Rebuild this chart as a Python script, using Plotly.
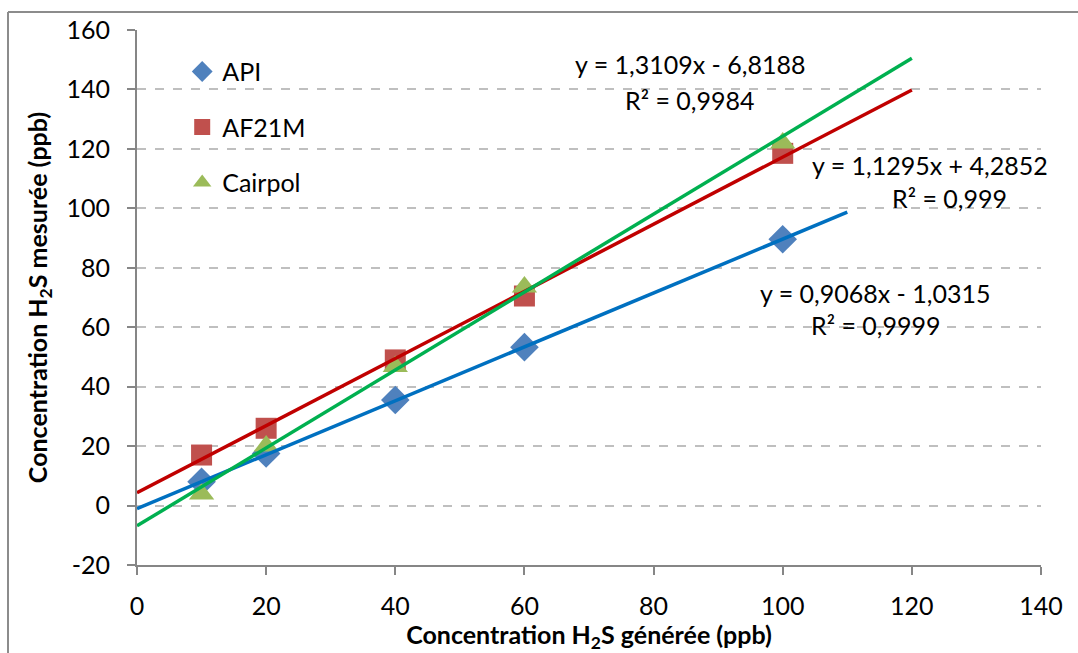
import plotly.graph_objects as go

# ---- data ----
x_gen = [10, 20, 40, 60, 100]
api = [8, 17.5, 35.5, 53.3, 89.6]
af21m = [17, 26, 49, 70.5, 118.5]
cairpol = [3.9, 20, 46.8, 73.5, 122]

series_names = ["API", "AF21M", "Cairpol"]
slopes = [0.9068, 1.1295, 1.3109]
intercepts = [-1.0315, 4.2852, -6.8188]
trend_end = [110, 120, 120]
eq_texts = ["y = 0,9068x - 1,0315", "y = 1,1295x + 4,2852", "y = 1,3109x - 6,8188"]
r2_texts = ["R² = 0,9999", "R² = 0,999", "R² = 0,9984"]

x_ticks = [0, 20, 40, 60, 80, 100, 120, 140]
y_ticks = [-20, 0, 20, 40, 60, 80, 100, 120, 140, 160]
y_tick_labels = ["-20", "0", "20", "40", "60", "80", "100", "120", "140", "160"]

# ---- style ----
FONT = "Lato"
FS = 25
marker_colors = ["#4F81BD", "#C0504D", "#9BBB59"]
line_colors = ["#0070C0", "#C00000", "#00B050"]
symbols = ["diamond", "square", "triangle-up"]
marker_sizes = [22, 21, 22]

fig = go.Figure()
for i, (name, ys) in enumerate(zip(series_names, [api, af21m, cairpol])):
    fig.add_trace(go.Scatter(
        x=x_gen, y=ys, mode="markers", name=name,
        legendgroup=name,
        marker=dict(symbol=symbols[i], size=marker_sizes[i], color=marker_colors[i],
                    line=dict(width=0)),
    ))
for i in range(3):
    xs = [0, trend_end[i]]
    ys = [intercepts[i] + slopes[i] * v for v in xs]
    fig.add_trace(go.Scatter(
        x=xs, y=ys, mode="lines", showlegend=False,
        line=dict(color=line_colors[i], width=3.5),
    ))

ann_pos = [
    (114.3, 71.5, 114.4, 60.7),
    (122.8, 114.6, 125.8, 103.5),
    (85.6, 148.6, 85.6, 136.4),
]
for i in range(3):
    ex, ey, rx, ry = ann_pos[i]
    fig.add_annotation(x=ex, y=ey, text=eq_texts[i], showarrow=False,
                       font=dict(family=FONT, size=FS, color="black"))
    fig.add_annotation(x=rx, y=ry, text=r2_texts[i], showarrow=False,
                       font=dict(family=FONT, size=FS, color="black"))

# chart-area border (left and top edges visible)
fig.add_shape(type="line", xref="paper", yref="paper",
              x0=-0.1427, x1=1.1, y0=1.0336, y1=1.0336,
              line=dict(color="#8C8C8C", width=2))
fig.add_shape(type="line", xref="paper", yref="paper",
              x0=-0.1427, x1=-0.1427, y0=-0.3, y1=1.0336,
              line=dict(color="#8C8C8C", width=2))

fig.update_layout(
    width=1078, height=653,
    margin=dict(l=137, r=37, t=30, b=88, autoexpand=False),
    paper_bgcolor="white", plot_bgcolor="white",
    font=dict(family=FONT, size=FS, color="black"),
    showlegend=True,
    legend=dict(x=0.05, y=0.965, xanchor="left", yanchor="top",
                bgcolor="rgba(0,0,0,0)", font=dict(family=FONT, size=FS),
                traceorder="grouped", tracegroupgap=20, itemwidth=30),
    xaxis=dict(
        range=[0, 140], tickvals=x_ticks, showgrid=False, zeroline=False,
        automargin=False,
        showline=True, linecolor="#868686", linewidth=2,
        ticks="outside", ticklen=8, tickcolor="#868686", tickwidth=2,
        ticklabelstandoff=10,
        tickfont=dict(family=FONT, size=FS),
        title=dict(text="<b>Concentration H<sub>2</sub>S générée (ppb)</b>",
                   font=dict(family=FONT, size=FS), standoff=7),
    ),
    yaxis=dict(
        range=[-20, 160], tickvals=y_ticks, ticktext=y_tick_labels, showgrid=True,
        automargin=False,
        gridcolor="#BFBFBF", griddash="dash", gridwidth=2, zeroline=False,
        showline=True, linecolor="#868686", linewidth=2,
        ticks="outside", ticklen=8, tickcolor="#868686", tickwidth=2,
        ticklabelstandoff=12,
        tickfont=dict(family=FONT, size=FS),
        title=dict(text="<b>Concentration H<sub>2</sub>S mesurée (ppb)</b>",
                   font=dict(family=FONT, size=FS), standoff=12),
    ),
)

fig.write_html("out.html")
